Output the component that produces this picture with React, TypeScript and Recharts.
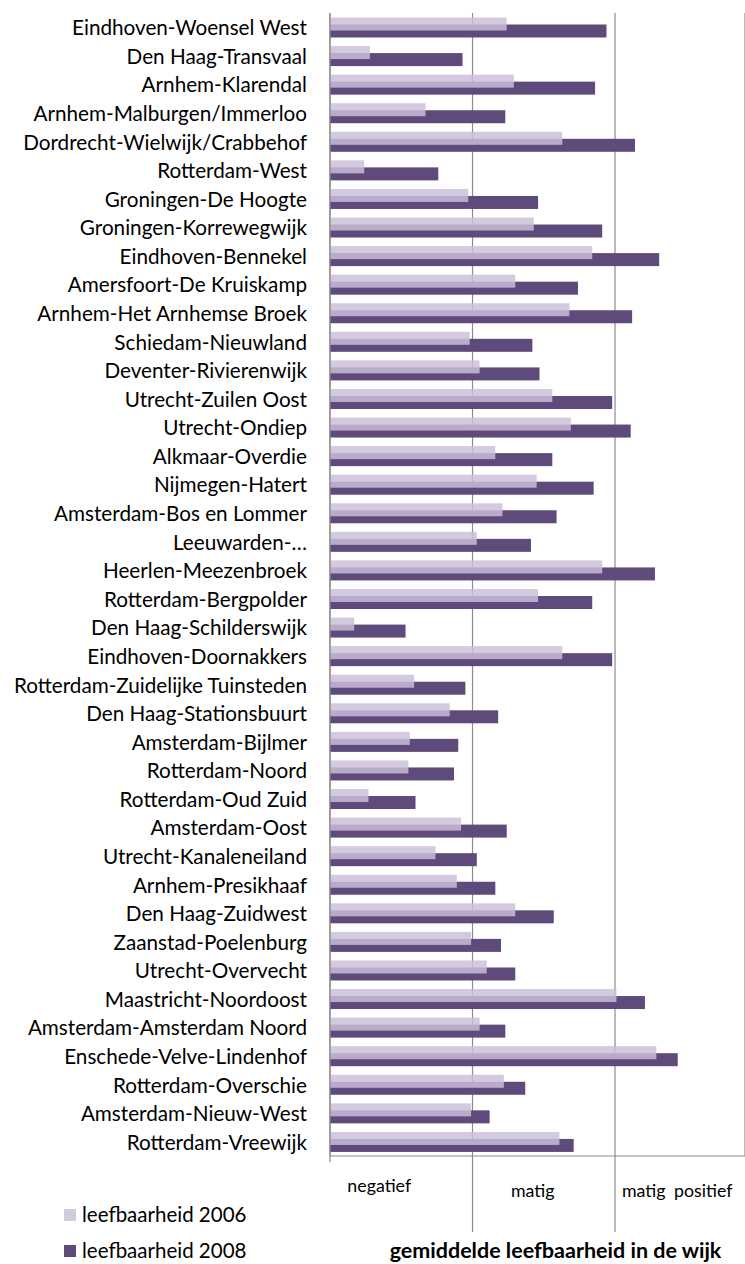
import React from 'react';
import { BarChart, Bar, XAxis, YAxis, CartesianGrid, Legend, Label } from 'recharts';

const CATEGORIES = [
  'Eindhoven-Woensel West',
  'Den Haag-Transvaal',
  'Arnhem-Klarendal',
  'Arnhem-Malburgen/Immerloo',
  'Dordrecht-Wielwijk/Crabbehof',
  'Rotterdam-West',
  'Groningen-De Hoogte',
  'Groningen-Korrewegwijk',
  'Eindhoven-Bennekel',
  'Amersfoort-De Kruiskamp',
  'Arnhem-Het Arnhemse Broek',
  'Schiedam-Nieuwland',
  'Deventer-Rivierenwijk',
  'Utrecht-Zuilen Oost',
  'Utrecht-Ondiep',
  'Alkmaar-Overdie',
  'Nijmegen-Hatert',
  'Amsterdam-Bos en Lommer',
  'Leeuwarden-…',
  'Heerlen-Meezenbroek',
  'Rotterdam-Bergpolder',
  'Den Haag-Schilderswijk',
  'Eindhoven-Doornakkers',
  'Rotterdam-Zuidelijke Tuinsteden',
  'Den Haag-Stationsbuurt',
  'Amsterdam-Bijlmer',
  'Rotterdam-Noord',
  'Rotterdam-Oud Zuid',
  'Amsterdam-Oost',
  'Utrecht-Kanaleneiland',
  'Arnhem-Presikhaaf',
  'Den Haag-Zuidwest',
  'Zaanstad-Poelenburg',
  'Utrecht-Overvecht',
  'Maastricht-Noordoost',
  'Amsterdam-Amsterdam Noord',
  'Enschede-Velve-Lindenhof',
  'Rotterdam-Overschie',
  'Amsterdam-Nieuw-West',
  'Rotterdam-Vreewijk',
];

const LEEF_2006 = [
  1.24, 0.28, 1.29, 0.67, 1.63, 0.24, 0.97, 1.43, 1.84, 1.30,
  1.68, 0.98, 1.05, 1.56, 1.69, 1.16, 1.45, 1.21, 1.03, 1.91,
  1.46, 0.17, 1.63, 0.59, 0.84, 0.56, 0.55, 0.27, 0.92, 0.74,
  0.89, 1.30, 0.99, 1.10, 2.01, 1.05, 2.29, 1.22, 0.99, 1.61,
];

const LEEF_2008 = [
  1.94, 0.93, 1.86, 1.23, 2.14, 0.76, 1.46, 1.91, 2.31, 1.74,
  2.12, 1.42, 1.47, 1.98, 2.11, 1.56, 1.85, 1.59, 1.41, 2.28,
  1.84, 0.53, 1.98, 0.95, 1.18, 0.90, 0.87, 0.60, 1.24, 1.03,
  1.16, 1.57, 1.20, 1.30, 2.21, 1.23, 2.44, 1.37, 1.12, 1.71,
];

const SERIES_NAMES = ['leefbaarheid 2006', 'leefbaarheid 2008'];
const X_TICKS = [0, 1, 2];
const X_LABELS = ['negatief', 'matig', 'matig positief'];
const AXIS_TITLE = 'gemiddelde leefbaarheid in de wijk';

const data = CATEGORIES.map((name, i) => ({
  name,
  v2006: LEEF_2006[i],
  v2008: LEEF_2008[i],
}));

// layout / style constants
const W = 745;
const H = 1264;
const Y_AXIS_W = 330;
const X_AXIS_H = 108;
const TOP = 13;
const X_MAX = 2.912;
const UNIT = (W - Y_AXIS_W) / X_MAX;
const FONT = "Lato, 'Open Sans', sans-serif";
const AXIS_COLOR = '#8c8c8c';
const LIGHT_FILL = '#cbbfda';
const LIGHT_OPACITY = 0.83;
const LIGHT_SWATCH = '#d4cae0';
const DARK_FILL = '#5f4b7b';
const BAR_SIZE = 13;
const BAR_SHIFT = 3.5;
const LABEL_DX = [-22, -11, -9];
const LABEL_DY = [36, 41, 41];

const YTick = (props: any) => {
  const { x, y, payload } = props;
  return (
    <text
      x={x}
      y={y}
      dy={8}
      textAnchor="end"
      fontFamily={FONT}
      fontSize={20.7}
      fill="#000"
    >
      {payload.value}
    </text>
  );
};

const XTick = (props: any) => {
  const { x, y, payload, index } = props;
  const long = payload.value !== 0;
  return (
    <g>
      <line x1={x} x2={x} y1={y} y2={y + (long ? 76 : 6)} stroke={AXIS_COLOR} strokeWidth={1.2} />
      <text
        x={x + UNIT / 2 + LABEL_DX[index]}
        y={y + LABEL_DY[index]}
        textAnchor="middle"
        fontFamily={FONT}
        fontSize={17.8}
        fill="#000"
        wordSpacing={4}
      >
        {X_LABELS[index]}
      </text>
    </g>
  );
};

const ShiftedBar = (shift: number) => (props: any) => {
  const { x, y, width, height, fill, fillOpacity } = props;
  if (!width || width <= 0) return <g />;
  return (
    <rect
      x={x}
      y={y + shift}
      width={width}
      height={height}
      fill={fill}
      fillOpacity={fillOpacity}
    />
  );
};

const LegendContent = () => (
  <svg width={330} height={64} style={{ display: 'block' }}>
    <rect x={64} y={9} width={12} height={12} fill={LIGHT_SWATCH} />
    <text x={82} y={22} fontFamily={FONT} fontSize={20.5} fill="#000">
      {SERIES_NAMES[0]}
    </text>
    <rect x={64} y={45} width={12} height={12} fill={DARK_FILL} />
    <text x={82} y={58} fontFamily={FONT} fontSize={20.5} fill="#000">
      {SERIES_NAMES[1]}
    </text>
  </svg>
);

const TitleLabel = (props: any) => {
  const vb = props.viewBox || {};
  return (
    <text
      x={vb.x + vb.width / 2 + 18}
      y={vb.y + 102}
      textAnchor="middle"
      fontFamily={FONT}
      fontWeight="bold"
      fontSize={21.5}
      fill="#000"
    >
      {AXIS_TITLE}
    </text>
  );
};

export default function App() {
  return (
    <div style={{ position: 'absolute', left: 0, top: 0, width: W, height: H, background: '#fff' }}>
      <BarChart
        width={W}
        height={H}
        data={data}
        layout="vertical"
        margin={{ top: TOP, right: 0, bottom: 0, left: 0 }}
        barGap={-BAR_SIZE}
        barSize={BAR_SIZE}
      >
        <CartesianGrid horizontal={false} vertical={true} stroke={AXIS_COLOR} strokeWidth={1.2} />
        <XAxis
          type="number"
          domain={[0, X_MAX]}
          ticks={X_TICKS}
          allowDataOverflow
          height={X_AXIS_H}
          axisLine={{ stroke: AXIS_COLOR, strokeWidth: 1.2 }}
          tickLine={false}
          tickSize={0}
          tickMargin={0}
          tick={<XTick />}
          interval={0}
        >
          <Label content={<TitleLabel />} />
        </XAxis>
        <YAxis
          type="category"
          dataKey="name"
          width={Y_AXIS_W}
          axisLine={{ stroke: AXIS_COLOR, strokeWidth: 1.2 }}
          tickLine={false}
          tickSize={0}
          tickMargin={23}
          tick={<YTick />}
          interval={0}
        />
        <Legend
          layout="vertical"
          align="center"
          verticalAlign="middle"
          wrapperStyle={{ position: 'absolute', left: 0, top: 1200, width: 330, height: 64 }}
          content={<LegendContent />}
        />
        <Bar
          dataKey="v2008"
          name={SERIES_NAMES[1]}
          fill={DARK_FILL}
          isAnimationActive={false}
          shape={ShiftedBar(BAR_SHIFT)}
        />
        <Bar
          dataKey="v2006"
          name={SERIES_NAMES[0]}
          fill={LIGHT_FILL}
          fillOpacity={LIGHT_OPACITY}
          isAnimationActive={false}
          shape={ShiftedBar(-BAR_SHIFT)}
        />
      </BarChart>
    </div>
  );
}
